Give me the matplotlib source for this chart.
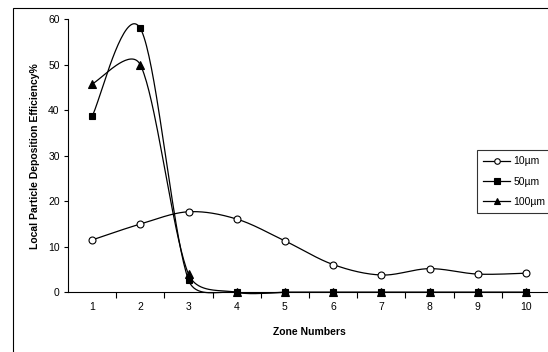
import numpy as np
import matplotlib
matplotlib.use("Agg")
import matplotlib.pyplot as plt
from matplotlib.patches import Rectangle

zones = [1, 2, 3, 4, 5, 6, 7, 8, 9, 10]
eff_10 = [11.5, 15.0, 17.7, 16.1, 11.3, 6.1, 3.8, 5.2, 4.0, 4.2]
eff_50 = [38.7, 58.0, 2.7, 0, 0, 0, 0, 0, 0, 0]
eff_100 = [45.8, 50.0, 4.0, 0, 0, 0, 0, 0, 0, 0]
labels = ["10µm", "50µm", "100µm"]

plt.rcParams['font.family'] = ['Liberation Sans', 'DejaVu Sans']

SX, SY = 48.2, 4.55  # pixel scale for smoothing


def _ctrl(tan, seglen):
    L = np.hypot(*tan)
    cap = seglen * 0.42
    if L > cap and L > 0:
        tan = tan * cap / L
    return tan


def smooth(x, y, n=40):
    P = np.column_stack([np.asarray(x, float) * SX, np.asarray(y, float) * SY])
    out = []
    for i in range(len(P) - 1):
        p1 = P[i]
        p2 = P[i + 1]
        d12 = np.hypot(*(p2 - p1))
        p0 = P[i - 1] if i > 0 else P[i]
        p3 = P[i + 2] if i + 2 < len(P) else P[i + 1]
        c1 = p1 + _ctrl((p2 - p0) / 6.0, d12)
        c2 = p2 - _ctrl((p3 - p1) / 6.0, d12)
        t = np.linspace(0, 1, n)[:, None]
        seg = ((1 - t) ** 3) * p1 + 3 * ((1 - t) ** 2) * t * c1 + 3 * (1 - t) * t ** 2 * c2 + t ** 3 * p2
        out.append(seg if i == 0 else seg[1:])
    s = np.vstack(out)
    return s[:, 0] / SX, s[:, 1] / SY


W, H = 548, 352
fig = plt.figure(figsize=(W / 100, H / 100), dpi=100)
fig.patch.set_facecolor('white')
fig.patches.append(Rectangle((13 / W, -0.1), 1.2, 1 - 8 / H + 0.1, transform=fig.transFigure,
                             fill=False, edgecolor='black', linewidth=0.8))

ax = fig.add_axes([68 / W, 1 - 292.3 / H, (550 - 68) / W, (292.3 - 19.3) / H])
ax.set_xlim(0.5, 10.5)
ax.set_ylim(0, 60)

series = [(eff_10, 'o', 'white'), (eff_50, 's', 'black'), (eff_100, '^', 'black')]
handles = []
for (vals, m, fc), lab in zip(series, labels):
    sx, sy = smooth(zones, vals)
    ax.plot(sx, sy, color='black', linewidth=0.9, clip_on=False, zorder=3)
    ax.plot(zones, vals, linestyle='none', marker=m, markersize=5 if m != '^' else 5.5,
            markerfacecolor=fc, markeredgecolor='black', markeredgewidth=0.8, clip_on=False, zorder=4)
    h, = ax.plot([], [], color='black', linewidth=0.9, marker=m, markersize=4,
                 markerfacecolor=fc, markeredgecolor='black', markeredgewidth=0.8)
    handles.append(h)

for s in ['top', 'right']:
    ax.spines[s].set_visible(False)
ax.spines['left'].set_linewidth(0.8)
ax.spines['bottom'].set_linewidth(0.8)

ax.set_yticks(range(0, 61, 10))
ax.set_xticks(zones)
ax.set_xticks(np.arange(1.5, 10.5, 1), minor=True)
ax.tick_params(axis='x', which='major', length=0, labelsize=7.5, pad=7)
ax.tick_params(axis='x', which='minor', length=4, width=0.8, direction='out')
ax.tick_params(axis='y', length=3, width=0.8, labelsize=7.5, pad=3)

ax.set_xlabel("Zone Numbers", fontsize=7.5, fontweight='bold', labelpad=11)
ax.set_ylabel("Local Particle Deposition Efficiency%", fontsize=7.5, fontweight='bold', labelpad=6)

leg = fig.legend(handles, labels, loc='upper left', bbox_to_anchor=(477 / W, 1 - 150 / H),
                 frameon=True, fancybox=False, edgecolor='black', fontsize=7.5,
                 handlelength=2.6, borderpad=0.6, labelspacing=1.0, handletextpad=0.3,
                 borderaxespad=0)
leg.get_frame().set_linewidth(0.8)

fig.savefig("out.png", dpi=100)
